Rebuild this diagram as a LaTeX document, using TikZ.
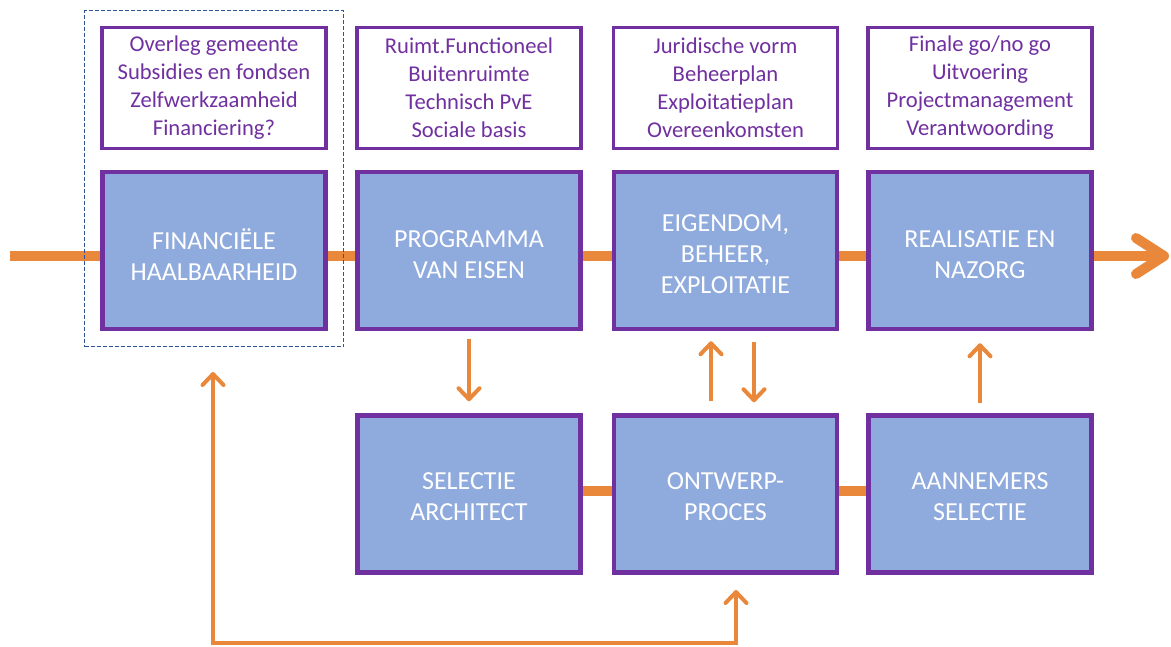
\documentclass[tikz,border=0pt]{standalone}
\usepackage{fontspec}
\setmainfont{Carlito}
\usetikzlibrary{arrows.meta,calc,backgrounds}
\definecolor{orng}{RGB}{233,136,58}
\definecolor{purp}{HTML}{7030A0}
\definecolor{bfill}{HTML}{8FAADC}
\definecolor{dashblue}{HTML}{2F5597}
\tikzset{
  phase/.style={draw=purp, line width=4.5pt, fill=bfill, minimum width=223pt, minimum height=157pt, inner sep=0pt},
  ptext/.style={inner sep=0pt, align=center, text=white, font=\fontsize{26}{31}\selectfont},
  note/.style={draw=purp, line width=3.5pt, fill=white, minimum width=224pt, minimum height=121pt, inner sep=0pt, align=center, text=purp, font=\fontsize{22.6}{28}\selectfont},
  grpbox/.style={draw=dashblue, line width=1pt, dash pattern=on 4pt off 2pt, minimum width=259pt, minimum height=336pt, inner sep=0pt},
  mainflow/.style={draw=orng, line width=10pt},
  bigtip/.style={-{Straight Barb[length=28pt,width=36pt,round]}},
  thinflow/.style={draw=orng, line width=4pt, -{Straight Barb[length=11pt,width=21pt,round]}},
  loopflow/.style={draw=orng, line width=4pt, {Straight Barb[length=11pt,width=21pt,round]}-{Straight Barb[length=11pt,width=21pt,round]}},
}
\begin{document}
\begin{tikzpicture}[x=1pt,y=-1pt]
\useasboundingbox (0,0) rectangle (1171,646);
% dashed group
\node[grpbox] (grp) at (214,178.5) {};
% notes
\node[note] (n1) at (214,88) {Overleg gemeente\\Subsidies en fondsen\\Zelfwerkzaamheid\\Financiering?};
\node[note] (n2) at (469,88) {Ruimt.Functioneel\\Buitenruimte\\Technisch PvE\\Sociale basis};
\node[note] (n3) at (725.5,88) {Juridische vorm\\Beheerplan\\Exploitatieplan\\Overeenkomsten};
\node[note] (n4) at (980,88) {Finale go/no go\\Uitvoering\\Projectmanagement\\Verantwoording};
% top phases
\node[phase] (fin) at (214,250.5) {};
\node[phase] (prog) at (469,250.5) {};
\node[phase] (eig) at (725.5,250.5) {};
\node[phase] (real) at (980,250.5) {};
% bottom phases
\node[phase] (sel) at (469,494) {};
\node[phase] (ont) at (725.5,494) {};
\node[phase] (aan) at (980,494) {};
% phase texts
\node[ptext] (finT) at ($(fin)+(0,4)$) {FINANCIËLE\\HAALBAARHEID};
\node[ptext] (progT) at ($(prog)+(0,4)$) {PROGRAMMA\\VAN EISEN};
\node[ptext] (eigT) at ($(eig)+(0,4)$) {EIGENDOM,\\BEHEER,\\EXPLOITATIE};
\node[ptext] (realT) at ($(real)+(0,4)$) {REALISATIE EN\\NAZORG};
\node[ptext] (selT) at ($(sel)+(0,3)$) {SELECTIE\\ARCHITECT};
\node[ptext] (ontT) at ($(ont)+(0,3)$) {ONTWERP-\\PROCES};
\node[ptext] (aanT) at ($(aan)+(0,3)$) {AANNEMERS\\SELECTIE};
% main flow behind
\coordinate (start) at (10,256);
\coordinate (finish) at (1169,256);
\begin{scope}[on background layer]
\draw[mainflow, bigtip] (start) -- (finish);
\draw[mainflow] ($(sel.east)+(0,-3)$) -- ($(ont.west)+(0,-3)$);
\draw[mainflow] ($(ont.east)+(0,-3)$) -- ($(aan.west)+(0,-3)$);
\end{scope}
% vertical arrows
\draw[thinflow] ($(prog.south)+(0,8)$) -- ($(sel.north)+(0,-12)$);
\draw[thinflow] ($(ont.north)+(-14.5,-12)$) -- ($(eig.south)+(-14.5,10)$);
\draw[thinflow] ($(eig.south)+(28.5,11)$) -- ($(ont.north)+(28.5,-11)$);
\draw[thinflow] ($(aan.north)+(0,-10)$) -- ($(real.south)+(0,12)$);
% feedback loop
\coordinate (la) at (213,372);
\coordinate (lb) at (213,643);
\coordinate (ra) at (736,590);
\draw[loopflow] (la) -- (lb) -| (ra);
\end{tikzpicture}
\end{document}
